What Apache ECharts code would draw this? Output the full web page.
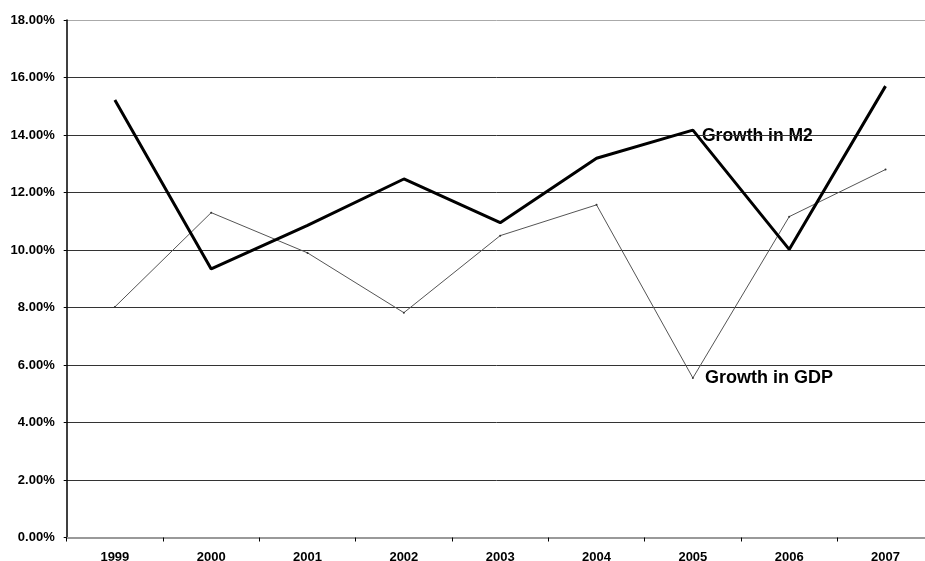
<!DOCTYPE html>
<html>
<head>
<meta charset="utf-8">
<script src="https://cdn.jsdelivr.net/npm/echarts@6/dist/echarts.min.js"></script>
<style>
  html, body { margin: 0; padding: 0; background: #fff; }
  #chart { width: 925px; height: 561px; }
</style>
</head>
<body>
<div id="chart"></div>
<script>
// Annual growth rates, percent
const years = ['1999', '2000', '2001', '2002', '2003', '2004', '2005', '2006', '2007'];
const growthM2 = [15.22, 9.34, 10.86, 12.47, 10.95, 13.19, 14.17, 10.02, 15.7];
const growthGDP = [8.02, 11.3, 9.9, 7.82, 10.5, 11.57, 5.55, 11.16, 12.8];
const yTicks = { min: 0, max: 18, step: 2 };

const chart = echarts.init(document.getElementById('chart'));
const font = 'Liberation Sans, Arial, sans-serif';

// grid line shades, from the 0% line up to the top line
const gridShades = ['#999', '#333', '#333', '#333', '#333', '#333', '#333', '#333', '#333', '#aaa'];

chart.setOption({
  animation: false,
  backgroundColor: '#fff',
  // the plot runs a little past the right edge of the canvas
  grid: {
    left: 66.7, top: 20, width: 867, bottom: 23.5,
    containLabel: false, outerBoundsMode: 'none'
  },
  xAxis: {
    type: 'category',
    data: years,
    boundaryGap: true,
    axisLine: { show: true, lineStyle: { color: '#999', width: 2 } },
    axisTick: { show: true, alignWithLabel: false, length: 4, lineStyle: { color: '#000', width: 1 } },
    axisLabel: { color: '#000', fontFamily: font, fontWeight: 'bold', fontSize: 13, margin: 13 },
    splitLine: { show: false }
  },
  yAxis: {
    type: 'value',
    min: yTicks.min,
    max: yTicks.max,
    interval: yTicks.step,
    axisLine: { show: true, lineStyle: { color: '#000', width: 1.5 } },
    axisTick: { show: true, length: 3, lineStyle: { color: '#000' } },
    axisLabel: {
      color: '#000', fontFamily: font, fontWeight: 'bold', fontSize: 13, margin: 12,
      formatter: v => v.toFixed(2) + '%'
    },
    splitLine: { show: true, lineStyle: { color: gridShades, width: 1 } }
  },
  series: [
    {
      name: 'Growth in M2',
      type: 'line',
      data: growthM2,
      symbol: 'none',
      lineStyle: { color: '#000', width: 3 },
      z: 3
    },
    {
      name: 'Growth in GDP',
      type: 'line',
      data: growthGDP,
      symbol: 'circle',
      symbolSize: 2,
      itemStyle: { color: '#333' },
      lineStyle: { color: '#555', width: 1 },
      z: 2
    }
  ],
  graphic: [
    {
      type: 'text', left: 702, top: 127,
      style: { text: 'Growth in M2', fill: '#000', font: 'bold 17.5px ' + font }
    },
    {
      type: 'text', left: 705, top: 369,
      style: { text: 'Growth in GDP', fill: '#000', font: 'bold 18px ' + font }
    }
  ]
});
</script>
</body>
</html>
